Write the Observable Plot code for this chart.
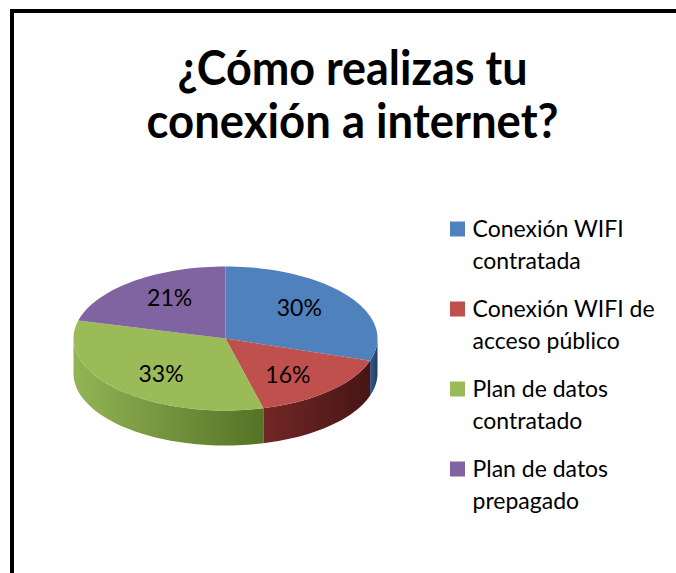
<!DOCTYPE html>
<html><head><meta charset="utf-8">
<script src="https://cdn.jsdelivr.net/npm/d3@7"></script>
<script src="https://cdn.jsdelivr.net/npm/@observablehq/plot@0.6"></script>
<style>html,body{margin:0;padding:0;overflow:hidden;background:#fff}</style>
</head><body><div id="chart"></div>
<script>
// ---- data ----
const titleLines = ["¿Cómo realizas tu", "conexión a internet?"];
const categories = ["Conexión WIFI contratada", "Conexión WIFI de acceso público", "Plan de datos contratado", "Plan de datos prepagado"];
const values = [30, 16, 33, 21];
const valueLabels = ["30%", "16%", "33%", "21%"];
const legendLines = [["Conexión WIFI", "contratada"], ["Conexión WIFI de", "acceso público"], ["Plan de datos", "contratado"], ["Plan de datos", "prepagado"]];

// ---- layout / style ----
const W = 676, H = 573;
const cx = 225, cy = 338, rx = 152, ry = 72, depth = 35;
const palette = ["#4f81bd", "#c0504d", "#9bbb59", "#8064a2"];
const sideStops = [["#34598a", "#223e63"], ["#722726", "#471514"], ["#93b455", "#557226"], ["#5d4a78", "#3f3152"]];
const font = "Lato, 'Open Sans', sans-serif";
const titleWidths = [350, 412];

const total = d3.sum(values);
let acc = 0;
const slices = values.map((v, i) => {
  const a0 = acc / total * 2 * Math.PI; acc += v;
  const a1 = acc / total * 2 * Math.PI;
  return {i, cat: categories[i], label: valueLabels[i], a0, a1, mid: (a0 + a1) / 2};
});
const px = a => cx + rx * Math.sin(a);
const py = a => cy - ry * Math.cos(a);
const arcPts = (a0, a1, dy = 0) => {
  const n = Math.max(2, Math.ceil(180 * (a1 - a0) / (2 * Math.PI)));
  return d3.range(n + 1).map(k => { const a = a0 + (a1 - a0) * k / n; return {x: px(a), y: py(a) + dy}; });
};
const topPts = slices.flatMap(s => [{x: cx, y: cy}, ...arcPts(s.a0, s.a1)].map(p => ({...p, cat: s.cat})));
const sides = slices.map(s => {
  const b0 = Math.max(s.a0, Math.PI / 2), b1 = Math.min(s.a1, 3 * Math.PI / 2);
  if (b1 <= b0) return null;
  const top = arcPts(b0, b1), bot = arcPts(b0, b1, depth).reverse();
  return {s, pts: [...top, ...bot], xmin: d3.min(top, p => p.x), xmax: d3.max(top, p => p.x)};
}).filter(Boolean);
const labelPts = slices.map(s => ({label: s.label, x: cx + 0.6 * rx * Math.sin(s.mid), y: cy - 0.7 * ry * Math.cos(s.mid)}));
const legendItems = categories.map((c, i) => ({cat: c, i, y: 229 + 80 * i}));
const legendText = legendLines.flatMap((ls, i) => ls.map((t, j) => ({t, y: 229 + 80 * i + 32 * j})));
const titleData = titleLines.map((t, i) => ({t, i, y: 69 + 53 * i}));

const chart = Plot.plot({
  width: W, height: H, margin: 0,
  x: {domain: [0, W], range: [0, W], axis: null},
  y: {domain: [0, H], range: [0, H], axis: null},
  color: {domain: categories, range: palette},
  style: {fontFamily: font, background: "white", overflow: "hidden"},
  marks: [
    Plot.rect([0], {x1: 12, x2: W + 20, y1: 11, y2: H + 20, fill: "none", stroke: "black", strokeWidth: 4}),
    Plot.text(titleData, {x: 352, y: "y", text: "t", fontSize: 48, fontWeight: "bold", fill: "black", className: "title-line"}),
    ...sides.map(sd => Plot.line(sd.pts, {x: "x", y: "y", fill: `url(#side${sd.s.i})`, stroke: "none"})),
    Plot.line(topPts, {x: "x", y: "y", z: "cat", fill: "cat", stroke: "none"}),
    Plot.text(labelPts, {x: "x", y: "y", text: "label", fontSize: 23, fill: "black"}),
    Plot.rect(legendItems, {x1: 450, x2: 465, y1: d => d.y - 7.5, y2: d => d.y + 7.5, fill: "cat"}),
    Plot.text(legendText, {x: 472, y: "y", text: "t", fontSize: 23, fill: "black", textAnchor: "start"})
  ]
});
const defs = d3.select(chart).insert("defs", ":first-child");
sides.forEach(sd => {
  const g = defs.append("linearGradient").attr("id", `side${sd.s.i}`).attr("gradientUnits", "userSpaceOnUse")
    .attr("x1", sd.xmin).attr("x2", sd.xmax).attr("y1", 0).attr("y2", 0);
  g.append("stop").attr("offset", 0).attr("stop-color", sideStops[sd.s.i][0]);
  g.append("stop").attr("offset", 1).attr("stop-color", sideStops[sd.s.i][1]);
});
d3.select(chart).selectAll(".title-line text").each(function(d, k) {
  d3.select(this).attr("textLength", titleWidths[k]).attr("lengthAdjust", "spacingAndGlyphs");
});
document.getElementById("chart").appendChild(chart);
</script></body></html>
